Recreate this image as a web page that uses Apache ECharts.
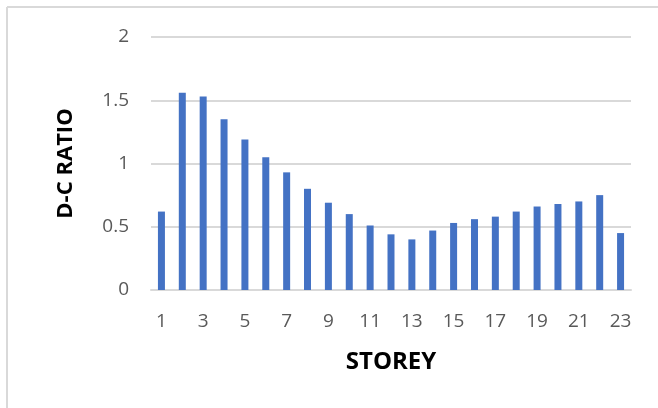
<!DOCTYPE html>
<html>
<head>
<meta charset="utf-8">
<script src="https://cdn.jsdelivr.net/npm/echarts@6/dist/echarts.min.js"></script>
<style>html,body{margin:0;padding:0;background:#fff;}#c{width:658px;height:408px;}</style>
</head>
<body>
<div id="c"></div>
<script>
const storeys = ['1','2','3','4','5','6','7','8','9','10','11','12','13','14','15','16','17','18','19','20','21','22','23'];
const dcRatio = [0.62,1.56,1.53,1.35,1.19,1.05,0.93,0.80,0.69,0.60,0.51,0.44,0.40,0.47,0.53,0.56,0.58,0.62,0.66,0.68,0.70,0.75,0.45];
const yTicks = [0, 0.5, 1, 1.5, 2];
const xTitle = 'STOREY';
const yTitle = 'D-C RATIO';

const chart = echarts.init(document.getElementById('c'), null, {renderer:'canvas'});
chart.setOption({
  animation: false,
  backgroundColor: '#fff',
  graphic: [
    {type:'line', shape:{x1:7,y1:7,x2:658,y2:7}, style:{stroke:'#d9d9d9', lineWidth:2}},
    {type:'line', shape:{x1:7,y1:7,x2:7,y2:408}, style:{stroke:'#d9d9d9', lineWidth:2}}
  ],
  grid: {left:151, right:27, top:37, bottom:118},
  xAxis: {
    type:'category',
    data: storeys,
    boundaryGap: true,
    axisLine:{lineStyle:{color:'#d9d9d9', width:2}},
    axisTick:{show:false},
    axisLabel:{interval:1, color:'#595959', fontSize:19, fontFamily:'Open Sans', margin:22},
    name: xTitle,
    nameLocation:'middle',
    nameGap: 60,
    nameTextStyle:{color:'#000', fontSize:24, fontWeight:'bold', fontFamily:'Open Sans'}
  },
  yAxis: {
    type:'value',
    min: yTicks[0], max: yTicks[yTicks.length-1], interval: 0.5,
    axisLine:{show:false},
    axisTick:{show:false},
    splitLine:{lineStyle:{color:'#d9d9d9', width:2}},
    axisLabel:{color:'#595959', fontSize:19, fontFamily:'Open Sans', margin:22},
    name: yTitle,
    nameLocation:'middle',
    nameGap: 74,
    nameRotate: 90,
    nameTextStyle:{color:'#000', fontSize:22, fontWeight:'bold', fontFamily:'Open Sans'}
  },
  series: [{
    type:'bar',
    data: dcRatio,
    barWidth: 7,
    itemStyle:{color:'#4472C4'}
  }]
});
</script>
</body>
</html>
